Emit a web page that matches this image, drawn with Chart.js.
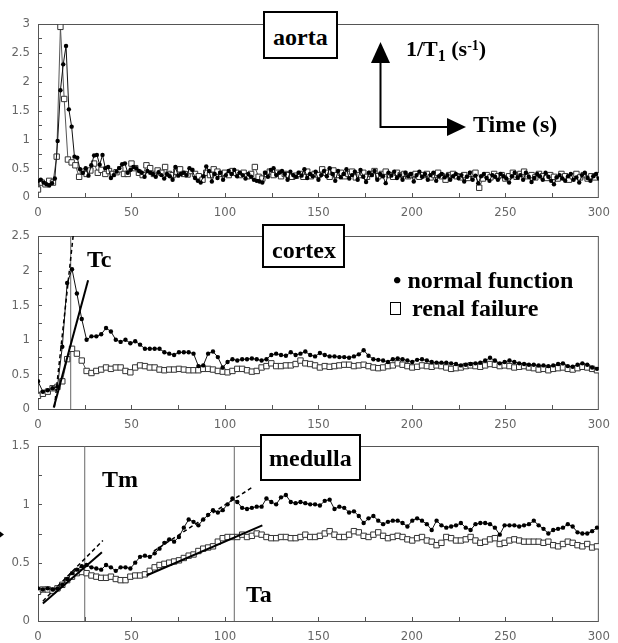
<!DOCTYPE html>
<html>
<head>
<meta charset="utf-8">
<script src="https://cdn.jsdelivr.net/npm/chart.js@4/dist/chart.umd.min.js"></script>
<style>
  body { margin: 0; background: #fff; }
  #wrap { position: relative; width: 618px; height: 643px; overflow: hidden; }
  canvas { position: absolute; left: 0; }
  .box { position: absolute; box-sizing: border-box; border: 2px solid #000; background: #fff; }
  .lbl { position: absolute; font: bold 24px 'Liberation Serif', 'Times New Roman', serif; line-height: 24px; white-space: nowrap; color: #000; }
  .sq { position: absolute; box-sizing: border-box; border: 1.5px solid #000; background: #fff; }
</style>
</head>
<body>
<div id="wrap">
  <canvas id="aorta" width="618" height="222" style="top:0"></canvas>
  <canvas id="cortex" width="618" height="222" style="top:215px"></canvas>
  <canvas id="medulla" width="618" height="213" style="top:430px"></canvas>

  <div class="box" style="left:263px;top:11px;width:75px;height:48px"></div>
  <div class="lbl" style="left:273px;top:25px">aorta</div>
  <div class="lbl" style="left:406px;top:37px;font-size:22px">1/T<span style="position:relative;top:5px;font-size:16px">1</span> (s<span style="position:relative;top:-6px;font-size:14px">-1</span>)</div>
  <div class="lbl" style="left:473px;top:112px">Time (s)</div>

  <div class="box" style="left:262px;top:224px;width:83px;height:44px"></div>
  <div class="lbl" style="left:272px;top:238px">cortex</div>
  <div class="lbl" style="left:87px;top:247px">Tc</div>
  <div class="lbl" style="left:393px;top:268px">&bull; normal function</div>
  <div class="sq" style="left:390px;top:302px;width:11px;height:13px"></div>
  <div class="lbl" style="left:412px;top:296px">renal failure</div>

  <div class="box" style="left:260px;top:434px;width:101px;height:47px"></div>
  <div class="lbl" style="left:269px;top:446px">medulla</div>
  <div class="lbl" style="left:102px;top:467px">Tm</div>
  <div class="lbl" style="left:246px;top:582px">Ta</div>
</div>
<script>
// sampling intervals (s)
const aortaNormalStep = 1.5;
const aortaRenalStep = 2;
const kidneyStep = 2.6;

// 1/T1 (s-1), aorta
const aortaNormal = [
  0.28,0.30,0.25,0.22,0.20,0.24,0.32,0.97,1.85,2.30,
  2.62,1.52,1.22,0.70,0.68,0.48,0.42,0.50,0.37,0.55,
  0.72,0.73,0.56,0.73,0.50,0.52,0.33,0.38,0.44,0.50,
  0.57,0.58,0.42,0.47,0.52,0.50,0.45,0.42,0.35,0.45,
  0.42,0.40,0.35,0.43,0.38,0.32,0.40,0.36,0.30,0.52,
  0.37,0.40,0.42,0.38,0.50,0.47,0.33,0.28,0.25,0.36,
  0.53,0.45,0.27,0.40,0.33,0.42,0.30,0.38,0.45,0.40,
  0.47,0.36,0.42,0.38,0.32,0.40,0.35,0.30,0.28,0.27,
  0.25,0.42,0.35,0.47,0.50,0.38,0.42,0.45,0.40,0.30,
  0.44,0.38,0.35,0.42,0.37,0.48,0.33,0.40,0.36,0.44,
  0.30,0.38,0.45,0.36,0.50,0.40,0.28,0.45,0.34,0.40,
  0.48,0.32,0.38,0.44,0.30,0.47,0.35,0.26,0.42,0.38,
  0.45,0.30,0.40,0.36,0.24,0.42,0.37,0.44,0.33,0.38,
  0.30,0.42,0.36,0.40,0.27,0.38,0.44,0.35,0.40,0.30,
  0.38,0.42,0.28,0.36,0.40,0.34,0.38,0.30,0.36,0.40,
  0.33,0.38,0.27,0.35,0.42,0.30,0.37,0.24,0.36,0.40,
  0.33,0.28,0.38,0.35,0.30,0.40,0.36,0.32,0.25,0.36,
  0.42,0.34,0.38,0.30,0.42,0.35,0.26,0.33,0.40,0.36,
  0.30,0.42,0.35,0.28,0.22,0.34,0.38,0.32,0.28,0.36,
  0.40,0.30,0.34,0.25,0.38,0.42,0.33,0.28,0.36,0.40,
  0.32
];
const aortaRenal = [
  0.13,0.25,0.22,0.28,0.25,0.70,2.95,1.70,0.65,0.60,
  0.55,0.35,0.44,0.40,0.46,0.58,0.42,0.47,0.40,0.45,
  0.40,0.43,0.48,0.40,0.40,0.58,0.50,0.42,0.38,0.55,
  0.50,0.40,0.46,0.42,0.52,0.40,0.38,0.44,0.48,0.40,
  0.39,0.45,0.40,0.36,0.30,0.42,0.38,0.48,0.44,0.40,
  0.42,0.38,0.45,0.42,0.38,0.42,0.36,0.40,0.52,0.35,
  0.32,0.40,0.44,0.38,0.42,0.36,0.40,0.38,0.35,0.37,
  0.40,0.35,0.44,0.36,0.40,0.38,0.48,0.42,0.35,0.46,
  0.38,0.42,0.36,0.40,0.44,0.34,0.38,0.42,0.35,0.40,
  0.45,0.36,0.40,0.44,0.38,0.35,0.42,0.38,0.40,0.36,
  0.38,0.40,0.35,0.38,0.40,0.34,0.38,0.42,0.36,0.30,
  0.38,0.40,0.36,0.34,0.38,0.33,0.40,0.42,0.16,0.32,
  0.38,0.34,0.40,0.36,0.38,0.32,0.36,0.42,0.35,0.40,
  0.44,0.36,0.38,0.34,0.40,0.36,0.33,0.38,0.35,0.32,
  0.40,0.36,0.30,0.36,0.40,0.34,0.38,0.32,0.36,0.34,
  0.38
];

// cortex
const cortexNormal = [
  0.40,0.25,0.27,0.30,0.32,0.90,1.82,2.02,1.67,1.30,
  1.00,1.05,1.05,1.08,1.17,1.12,1.00,0.97,1.00,0.95,
  0.98,0.93,0.87,0.87,0.87,0.87,0.82,0.80,0.78,0.82,
  0.82,0.82,0.80,0.62,0.63,0.80,0.83,0.75,0.60,0.68,
  0.72,0.70,0.72,0.72,0.73,0.72,0.70,0.72,0.78,0.80,
  0.78,0.77,0.82,0.78,0.80,0.83,0.78,0.76,0.81,0.78,
  0.76,0.76,0.75,0.75,0.74,0.76,0.79,0.85,0.77,0.72,
  0.71,0.70,0.68,0.72,0.73,0.72,0.70,0.68,0.71,0.72,
  0.70,0.68,0.67,0.67,0.67,0.66,0.65,0.63,0.64,0.65,
  0.66,0.67,0.70,0.74,0.70,0.66,0.68,0.70,0.68,0.66,
  0.65,0.64,0.64,0.63,0.63,0.62,0.63,0.65,0.66,0.62,
  0.61,0.64,0.66,0.64,0.60,0.58
];
const cortexRenal = [
  0.19,0.22,0.25,0.30,0.32,0.40,0.72,0.87,0.80,0.70,
  0.55,0.52,0.55,0.57,0.60,0.58,0.60,0.60,0.55,0.53,
  0.60,0.63,0.62,0.60,0.60,0.57,0.56,0.57,0.57,0.58,
  0.57,0.56,0.56,0.56,0.58,0.58,0.57,0.55,0.54,0.53,
  0.55,0.58,0.58,0.56,0.54,0.55,0.60,0.62,0.66,0.62,
  0.62,0.63,0.63,0.65,0.70,0.66,0.65,0.63,0.60,0.62,
  0.61,0.62,0.63,0.64,0.64,0.62,0.63,0.64,0.62,0.60,
  0.59,0.60,0.62,0.63,0.66,0.64,0.62,0.60,0.61,0.63,
  0.62,0.61,0.63,0.62,0.60,0.58,0.59,0.60,0.62,0.63,
  0.62,0.61,0.63,0.65,0.64,0.62,0.63,0.62,0.60,0.61,
  0.62,0.60,0.59,0.57,0.58,0.56,0.58,0.59,0.60,0.58,
  0.57,0.59,0.61,0.60,0.58,0.56
];
const cortexSteepFit = [[8.8, 0.03], [18.8, 2.5]];
const cortexSlowFit = [[8.4, 0.02], [26.8, 1.86]];
const tcMark = 17.5;

// medulla
const medullaNormal = [
  0.28,0.27,0.28,0.27,0.28,0.31,0.36,0.41,0.44,0.47,
  0.48,0.46,0.45,0.44,0.48,0.46,0.43,0.46,0.46,0.45,
  0.50,0.55,0.56,0.55,0.58,0.62,0.67,0.70,0.68,0.72,
  0.80,0.87,0.85,0.82,0.87,0.91,0.95,0.93,0.95,1.00,
  1.05,1.02,0.97,0.96,0.97,0.98,0.98,1.05,1.02,1.00,
  1.06,1.08,1.02,1.01,1.02,1.01,1.00,1.00,0.99,1.03,
  1.04,0.96,0.98,0.97,0.93,0.94,0.90,0.84,0.88,0.90,
  0.86,0.83,0.85,0.86,0.86,0.84,0.81,0.86,0.88,0.86,
  0.83,0.78,0.86,0.82,0.80,0.81,0.82,0.84,0.80,0.78,
  0.83,0.84,0.84,0.83,0.80,0.74,0.82,0.82,0.82,0.81,
  0.82,0.83,0.86,0.82,0.79,0.75,0.78,0.79,0.80,0.83,
  0.81,0.76,0.75,0.75,0.77,0.80
];
const medullaRenal = [
  0.25,0.27,0.27,0.26,0.28,0.31,0.35,0.38,0.41,0.42,
  0.41,0.39,0.38,0.37,0.37,0.38,0.36,0.35,0.35,0.38,
  0.39,0.39,0.40,0.43,0.46,0.48,0.49,0.50,0.51,0.52,
  0.54,0.56,0.57,0.60,0.62,0.63,0.64,0.68,0.71,0.72,
  0.72,0.72,0.74,0.72,0.73,0.75,0.74,0.72,0.71,0.71,
  0.72,0.72,0.71,0.71,0.72,0.74,0.72,0.72,0.73,0.75,
  0.77,0.74,0.72,0.72,0.74,0.77,0.76,0.73,0.72,0.74,
  0.76,0.73,0.71,0.72,0.73,0.72,0.70,0.69,0.71,0.72,
  0.69,0.68,0.65,0.67,0.72,0.71,0.69,0.69,0.70,0.72,
  0.69,0.67,0.68,0.70,0.71,0.66,0.67,0.69,0.70,0.69,
  0.68,0.68,0.68,0.68,0.67,0.68,0.65,0.64,0.66,0.68,
  0.67,0.65,0.64,0.66,0.63,0.64
];
const medullaEarlyDashFit = [[2.6, 0.17], [34.7, 0.69]];
const medullaEarlySolidFit = [[2.6, 0.15], [34.2, 0.59]];
const medullaLateDashFit = [[62, 0.60], [115, 1.15]];
const medullaLateSolidFit = [[58, 0.39], [120, 0.82]];
const tmMark = 25;
const taMark = 105;

const tickFont = { family: "'Liberation Sans Narrow', 'Arial Narrow', 'DejaVu Sans Condensed', sans-serif", size: 13 };

function points(values, step) {
  return values.map(function (v, i) { return { x: i * step, y: v }; });
}
function pairs(list) {
  return list.map(function (p) { return { x: p[0], y: p[1] }; });
}
function normalSet(values, step) {
  return { data: points(values, step), showLine: true, borderColor: '#111', borderWidth: 1,
    pointStyle: 'circle', pointRadius: 2.2, pointBackgroundColor: '#000', pointBorderWidth: 0 };
}
function renalSet(values, step) {
  return { data: points(values, step), showLine: true, borderColor: '#555', borderWidth: 1,
    pointStyle: 'rect', pointRadius: 3.8, pointBackgroundColor: '#fff', pointBorderColor: '#333', pointBorderWidth: 1 };
}
function fitSet(list, dashed) {
  return { data: pairs(list), showLine: true, borderColor: '#000', borderWidth: dashed ? 1.5 : 2,
    borderDash: dashed ? [4, 3] : [], pointRadius: 0 };
}
function markSet(t, top) {
  return { data: [{ x: t, y: 0 }, { x: t, y: top }], showLine: true, borderColor: '#666', borderWidth: 1, pointRadius: 0 };
}

// plot frame with small inward ticks
const frame = {
  id: 'frame',
  beforeDatasetsDraw: function (chart) {
    var ctx = chart.ctx, a = chart.chartArea, x = chart.scales.x, y = chart.scales.y;
    ctx.save();
    ctx.strokeStyle = '#555';
    ctx.lineWidth = 1;
    ctx.strokeRect(a.left + 0.5, a.top + 0.5, a.right - a.left - 1, a.bottom - a.top);
    ctx.beginPath();
    for (var t = 25; t < 300; t += 25) {
      var px = Math.round(x.getPixelForValue(t)) + 0.5;
      ctx.moveTo(px, a.bottom);
      ctx.lineTo(px, a.bottom - 4);
    }
    for (var v = 0.25; v < y.max - 0.01; v += 0.25) {
      var py = Math.round(y.getPixelForValue(v)) + 0.5;
      ctx.moveTo(a.left, py);
      ctx.lineTo(a.left + 4, py);
    }
    ctx.stroke();
    ctx.restore();
  }
};

function triangle(ctx, p1, p2, p3) {
  ctx.beginPath();
  ctx.moveTo(p1[0], p1[1]);
  ctx.lineTo(p2[0], p2[1]);
  ctx.lineTo(p3[0], p3[1]);
  ctx.closePath();
  ctx.fill();
}

// axis key drawn inside the aorta panel
const axisKey = {
  id: 'axisKey',
  afterDraw: function (chart) {
    var ctx = chart.ctx;
    ctx.save();
    ctx.strokeStyle = '#000';
    ctx.fillStyle = '#000';
    ctx.lineWidth = 2;
    ctx.beginPath();
    ctx.moveTo(380.5, 62);
    ctx.lineTo(380.5, 127);
    ctx.lineTo(448, 127);
    ctx.stroke();
    triangle(ctx, [371, 63], [390, 63], [380.5, 42]);
    triangle(ctx, [447, 118], [447, 136], [466, 127]);
    ctx.restore();
  }
};

const stray = {
  id: 'stray',
  afterDraw: function (chart) {
    var ctx = chart.ctx;
    ctx.save();
    ctx.fillStyle = '#000';
    triangle(ctx, [0, 101.5], [4, 104.5], [0, 107.5]);
    ctx.restore();
  }
};

function makeChart(id, maxY, top, xHeight, datasets, extra) {
  return new Chart(document.getElementById(id), {
    type: 'scatter',
    data: { datasets: datasets },
    options: {
      responsive: false,
      animation: false,
      devicePixelRatio: 1,
      events: [],
      layout: { padding: { top: top, right: 10, bottom: 0, left: 0 } },
      plugins: { legend: { display: false }, tooltip: { enabled: false } },
      scales: {
        x: {
          type: 'linear', min: 0, max: 300,
          grid: { display: false, drawTicks: false }, border: { display: false },
          ticks: { stepSize: 50, padding: 8, color: '#666', font: tickFont, maxRotation: 0, autoSkip: false },
          afterFit: function (s) { s.height = xHeight; }
        },
        y: {
          min: 0, max: maxY,
          grid: { display: false, drawTicks: false }, border: { display: false },
          ticks: {
            stepSize: 0.5, padding: 8, color: '#666', font: tickFont,
            callback: function (v) { return String(Math.round(v * 10) / 10); }
          },
          afterFit: function (s) { s.width = 38; }
        }
      }
    },
    plugins: [frame].concat(extra || [])
  });
}

makeChart('aorta', 3, 24, 25, [
  normalSet(aortaNormal, aortaNormalStep),
  renalSet(aortaRenal, aortaRenalStep)
], [axisKey]);

makeChart('cortex', 2.5, 21, 28, [
  fitSet(cortexSteepFit, true),
  fitSet(cortexSlowFit, false),
  normalSet(cortexNormal, kidneyStep),
  renalSet(cortexRenal, kidneyStep),
  markSet(tcMark, 2.5)
]);

makeChart('medulla', 1.5, 16, 22, [
  fitSet(medullaEarlyDashFit, true),
  fitSet(medullaEarlySolidFit, false),
  fitSet(medullaLateDashFit, true),
  fitSet(medullaLateSolidFit, false),
  normalSet(medullaNormal, kidneyStep),
  renalSet(medullaRenal, kidneyStep),
  markSet(tmMark, 1.5),
  markSet(taMark, 1.5)
], [stray]);
</script>
</body>
</html>
